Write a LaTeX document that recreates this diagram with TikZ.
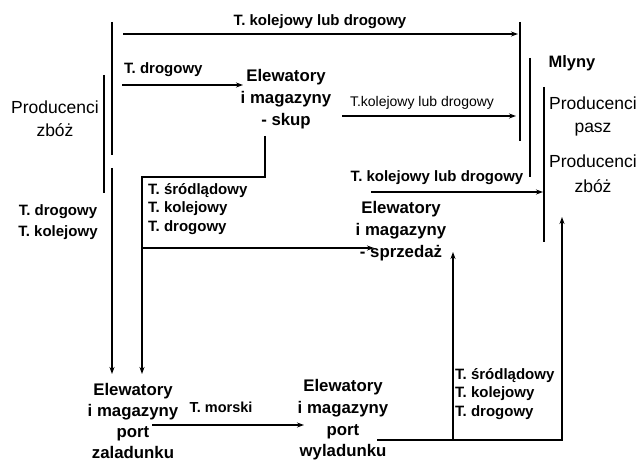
\documentclass[tikz,border=0pt]{standalone}
\usepackage{fontspec}
\setmainfont{Liberation Sans}
\usetikzlibrary{arrows.meta}
\tikzset{
  txt/.style={inner sep=0pt, align=center, font=\fontsize{15}{21.5}\selectfont},
  btxt/.style={txt, font=\fontsize{15}{21.5}\selectfont\bfseries},
  elev/.style={txt, font=\fontsize{16.8}{21.7}\selectfont\bfseries},
  prod/.style={txt, font=\fontsize{17.5}{23}\selectfont},
  listtxt/.style={inner sep=0pt, align=left, anchor=north west, font=\fontsize{15}{18.5}\selectfont\bfseries},
  smalltxt/.style={inner sep=0pt, font=\fontsize{14}{16}\selectfont},
  bar/.style={line width=2.2pt},
  thinbar/.style={line width=1.6pt},
  conn/.style={line width=1.3pt},
  arr/.style={conn, -{Stealth[length=7pt,width=5pt]}},
}
\begin{document}
\begin{tikzpicture}[x=1pt,y=-1pt]
\useasboundingbox (0,0) rectangle (640,465);
% text nodes
\node[btxt] (topl) at (320,22) {T. kolejowy lub drogowy};
\node[btxt, anchor=west] (tdrog) at (124,70) {T. drogowy};
\node[elev] (skup) at (286,99) {Elewatory\\i magazyny\\- skup};
\node[smalltxt] (midl) at (422,103) {T.kolejowy lub drogowy};
\node[btxt, font=\fontsize{16.5}{20}\selectfont\bfseries] (mlyny) at (572,63) {Mlyny};
\node[prod] (ppasz) at (593,116) {Producenci\\pasz};
\node[prod, font=\fontsize{17.5}{25}\selectfont] (pzboz2) at (593,174) {Producenci\\zbóż};
\node[btxt] (lowl) at (437,178) {T. kolejowy lub drogowy};
\node[elev] (sprz) at (401,231) {Elewatory\\i magazyny\\- sprzedaż};
\node[prod] (pzboz) at (55,119) {Producenci\\zbóż};
\node[btxt] (leftl) at (58,222) {T. drogowy\\T. kolejowy};
\node[listtxt] (list1) at (148,183) {T. śródlądowy\\T. kolejowy\\T. drogowy};
\node[elev, font=\fontsize{16.8}{21}\selectfont\bfseries] (zal) at (133,421) {Elewatory\\i magazyny\\port\\zaladunku};
\node[elev] (wyl) at (343,420) {Elewatory\\i magazyny\\port\\wyladunku};
\node[btxt, font=\fontsize{14.5}{18}\selectfont\bfseries] (morl) at (221,407) {T. morski};
\node[listtxt] (list2) at (455,368) {T. śródlądowy\\T. kolejowy\\T. drogowy};
% bar coordinates
\coordinate (aT) at (112,22);  \coordinate (aB) at (112,155);
\coordinate (bT) at (104,75);  \coordinate (bB) at (104,193);
\coordinate (eT) at (520,22);  \coordinate (eB) at (520,141);
\coordinate (fT) at (530,58);  \coordinate (fB) at (530,177);
\coordinate (gT) at (544,87);  \coordinate (gB) at (544,242);
% bars
\draw[bar] (aT) -- (aB);
\draw[thinbar] (bT) -- (bB);
\draw[bar] (eT) -- (eB);
\draw[thinbar] (fT) -- (fB);
\draw[thinbar] (gT) -- (gB);
% connector coordinates
\coordinate (c1s) at (123,34);  \coordinate (c1e) at (518,34);
\coordinate (c2s) at (122,85);  \coordinate (c2e) at (243,85);
\coordinate (c3s) at (342,116); \coordinate (c3e) at (516,116);
\coordinate (c4s) at (371,192); \coordinate (c4e) at (543,192);
\coordinate (c5s) at (112,168); \coordinate (c5e) at (112,374);
\coordinate (c6s) at (265,136); \coordinate (c6a) at (265,177); \coordinate (c6b) at (142,177); \coordinate (c6e) at (142,374);
\coordinate (c7s) at (142,248); \coordinate (c7e) at (374,248);
\coordinate (c8s) at (152,425); \coordinate (c8e) at (304,425);
\coordinate (c9s) at (377,440); \coordinate (c9a) at (562,440); \coordinate (c9e) at (562,217);
\coordinate (c10s) at (453,440); \coordinate (c10e) at (453,252);
% connectors
\draw[arr] (c1s) -- (c1e);
\draw[arr] (c2s) -- (c2e);
\draw[arr] (c3s) -- (c3e);
\draw[arr] (c4s) -- (c4e);
\draw[arr] (c5s) -- (c5e);
\draw[arr] (c6s) -- (c6a) -- (c6b) -- (c6e);
\draw[arr] (c7s) -- (c7e);
\draw[arr] (c8s) -- (c8e);
\draw[arr] (c9s) -- (c9a) -- (c9e);
\draw[arr] (c10s) -- (c10e);
\end{tikzpicture}
\end{document}
